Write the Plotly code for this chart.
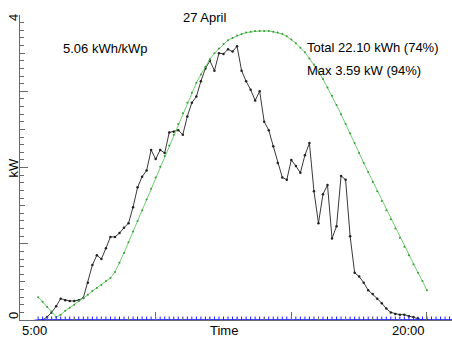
import plotly.graph_objects as go

STEP_MIN = 10

# Measured output (kW), 10-minute samples starting 05:50
black_start = "05:50"
black_kw = [
    0.00, 0.04, 0.10, 0.18, 0.28, 0.26, 0.25, 0.25, 0.26, 0.29,
    0.49, 0.72, 0.85, 0.80, 0.94, 1.09, 1.09, 1.14, 1.21, 1.27,
    1.48, 1.74, 1.88, 1.96, 2.23, 2.11, 2.23, 2.19, 2.46, 2.47,
    2.49, 2.43, 2.67, 2.85, 2.93, 3.13, 3.30, 3.40, 3.27, 3.50,
    3.49, 3.55, 3.52, 3.59, 3.27, 3.13, 3.02, 2.88, 3.00, 2.60,
    2.49, 2.28, 2.06, 1.87, 1.84, 2.10, 2.02, 1.93, 2.16, 2.32,
    1.69, 1.27, 1.65, 1.77, 1.07, 1.23, 1.89, 1.84, 1.10, 0.62,
    0.57, 0.49, 0.39, 0.34, 0.28, 0.22, 0.15, 0.10, 0.08, 0.07,
    0.07, 0.05, 0.04, 0.02, 0.00, 0.00,
]

# Clear-sky model (kW), 10-minute samples starting 05:40
green_start = "05:40"
green_kw = [
    0.30, 0.24, 0.17, 0.11, 0.04, 0.07, 0.12, 0.16, 0.20, 0.25,
    0.29, 0.33, 0.38, 0.42, 0.46, 0.51, 0.55, 0.63, 0.75, 0.88,
    1.02, 1.16, 1.30, 1.44, 1.58, 1.72, 1.87, 2.01, 2.15, 2.29,
    2.43, 2.57, 2.71, 2.85, 2.98, 3.11, 3.22, 3.32, 3.42, 3.50,
    3.56, 3.62, 3.67, 3.70, 3.73, 3.75, 3.77, 3.78, 3.79, 3.79,
    3.79, 3.79, 3.78, 3.77, 3.75, 3.72, 3.68, 3.63, 3.57, 3.51,
    3.43, 3.35, 3.26, 3.16, 3.05, 2.94, 2.82, 2.70, 2.57, 2.45,
    2.32, 2.19, 2.06, 1.94, 1.81, 1.69, 1.56, 1.44, 1.32, 1.20,
    1.08, 0.96, 0.85, 0.73, 0.62, 0.51, 0.39,
]

# Third series (kW), all zero, 10-minute samples starting 05:40
blue_start = "05:40"
blue_kw = [
    0.0, 0.0, 0.0, 0.0, 0.0, 0.0, 0.0, 0.0, 0.0, 0.0,
    0.0, 0.0, 0.0, 0.0, 0.0, 0.0, 0.0, 0.0, 0.0, 0.0,
    0.0, 0.0, 0.0, 0.0, 0.0, 0.0, 0.0, 0.0, 0.0, 0.0,
    0.0, 0.0, 0.0, 0.0, 0.0, 0.0, 0.0, 0.0, 0.0, 0.0,
    0.0, 0.0, 0.0, 0.0, 0.0, 0.0, 0.0, 0.0, 0.0, 0.0,
    0.0, 0.0, 0.0, 0.0, 0.0, 0.0, 0.0, 0.0, 0.0, 0.0,
    0.0, 0.0, 0.0, 0.0, 0.0, 0.0, 0.0, 0.0, 0.0, 0.0,
    0.0, 0.0, 0.0, 0.0, 0.0, 0.0, 0.0, 0.0, 0.0, 0.0,
    0.0, 0.0, 0.0, 0.0, 0.0, 0.0, 0.0, 0.0, 0.0, 0.0,
    0.0, 0.0, 0.0,
]

title_text = "27 April"
yield_text = "5.06 kWh/kWp"
total_text = "Total 22.10 kWh (74%)"
max_text = "Max 3.59 kW (94%)"
x_tick_labels = {5: "5:00", 20: "20:00"}
y_tick_labels = {0: "0", 4: "4"}


def hours(start, n):
    h, m = start.split(":")
    t0 = int(h) + int(m) / 60.0
    return [t0 + i * STEP_MIN / 60.0 for i in range(n)]


FONT = "Liberation Sans, Arial, sans-serif"
AX = "#6a6a6a"

fig = go.Figure()
fig.add_trace(go.Scatter(
    x=hours(black_start, len(black_kw)), y=black_kw, mode="lines+markers",
    line=dict(color="#3a3a3a", width=1),
    marker=dict(color="#222222", size=2.5),
))
fig.add_trace(go.Scatter(
    x=hours(green_start, len(green_kw)), y=green_kw, mode="lines+markers",
    line=dict(color="#6fd06f", width=1),
    marker=dict(color="#3a9a3a", size=2),
))
fig.add_trace(go.Scatter(
    x=hours(blue_start, len(blue_kw)), y=blue_kw, mode="lines+markers",
    line=dict(color="#2020ff", width=1),
    marker=dict(symbol="cross-thin", color="#2020ff", size=5,
                line=dict(color="#2020ff", width=1)),
    cliponaxis=True,
))
# invisible trace to carry the half-unit tick axis
fig.add_trace(go.Scatter(x=[5], y=[0], yaxis="y2", mode="markers",
                         marker=dict(opacity=0), hoverinfo="skip"))

x_end = 5 + 432 / 27.133
fig.update_layout(
    width=452, height=339,
    margin=dict(l=20, r=0, t=15, b=19),
    plot_bgcolor="white", paper_bgcolor="white",
    showlegend=False,
    font=dict(family=FONT, size=13, color="black"),
    xaxis=dict(
        range=[5, x_end], showgrid=False, zeroline=False,
        showline=True, linecolor=AX, linewidth=1,
        ticks="inside", tickmode="array", tickvals=[5, 10, 15, 20],
        ticklen=8, tickcolor=AX, tickwidth=1, showticklabels=False,
        minor=dict(tickmode="linear", tick0=5, dtick=1, ticks="inside",
                   ticklen=3.5, tickcolor=AX, tickwidth=1, showgrid=False),
    ),
    yaxis=dict(
        range=[0, 4], showgrid=False, zeroline=False,
        showline=True, linecolor=AX, linewidth=1,
        ticks="inside", tickmode="array", tickvals=[0, 1, 2, 3, 4],
        ticklen=8, tickcolor=AX, tickwidth=1, showticklabels=False,
        minor=dict(tickmode="linear", tick0=0, dtick=0.1, ticks="inside",
                   ticklen=3.5, tickcolor=AX, tickwidth=1, showgrid=False),
    ),
    yaxis2=dict(
        overlaying="y", side="left", range=[0, 4], showgrid=False,
        zeroline=False, showline=False, ticks="inside", tickmode="array",
        tickvals=[0.5, 1.5, 2.5, 3.5], ticklen=5, tickcolor=AX, tickwidth=1,
        showticklabels=False,
    ),
)


def px_x(p):
    return (p - 20) / 432.0


def px_y(p):
    return (320 - p) / 305.0


ann = []
ann.append(dict(text=title_text, xref="paper", yref="paper", x=px_x(204), y=px_y(17),
                xanchor="center", yanchor="middle", showarrow=False))
ann.append(dict(text=yield_text, xref="paper", yref="paper", x=px_x(61), y=px_y(49),
                xanchor="left", yanchor="middle", showarrow=False))
ann.append(dict(text=total_text, xref="paper", yref="paper", x=px_x(305), y=px_y(48),
                xanchor="left", yanchor="middle", showarrow=False))
ann.append(dict(text=max_text, xref="paper", yref="paper", x=px_x(305), y=px_y(70),
                xanchor="left", yanchor="middle", showarrow=False))
# x tick labels and title
ann.append(dict(text=x_tick_labels[5], xref="x", yref="paper", x=5, y=px_y(330),
                xanchor="left", yanchor="middle", showarrow=False))
ann.append(dict(text=x_tick_labels[20], xref="x", yref="paper", x=20, y=px_y(330),
                xanchor="right", yanchor="middle", showarrow=False))
ann.append(dict(text="Time", xref="x", yref="paper", x=12.5, y=px_y(330),
                xanchor="center", yanchor="middle", showarrow=False))
# y tick labels and title (rotated)
ann.append(dict(text=y_tick_labels[0], xref="paper", yref="y", x=0, y=0, xshift=-7, yshift=4,
                xanchor="center", yanchor="middle", textangle=-90, showarrow=False))
ann.append(dict(text=y_tick_labels[4], xref="paper", yref="y", x=0, y=4, xshift=-7, yshift=-3,
                xanchor="center", yanchor="middle", textangle=-90, showarrow=False))
ann.append(dict(text="kW", xref="paper", yref="y", x=0, y=2, xshift=-7,
                xanchor="center", yanchor="middle", textangle=-90, showarrow=False))
fig.update_layout(annotations=ann)

fig.write_html(
    "out.html",
    config={"displayModeBar": False},
    post_script="document.body.style.margin='0';document.body.style.overflow='hidden';",
)
